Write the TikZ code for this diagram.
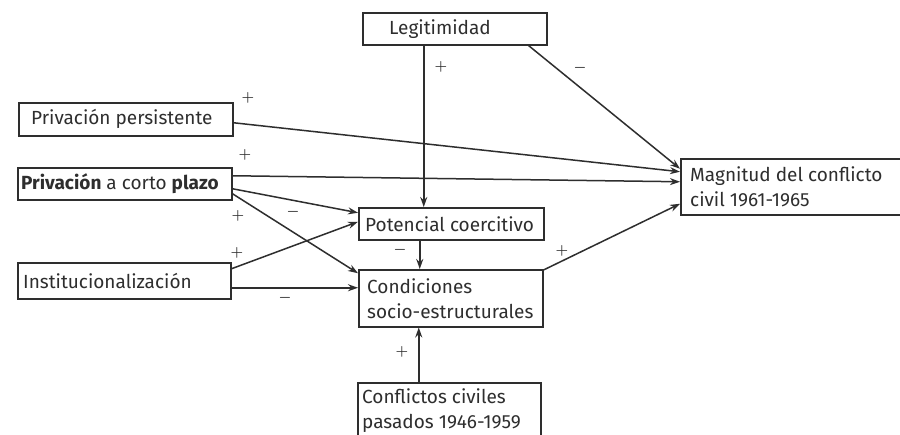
\documentclass[tikz,border=0pt]{standalone}
\usepackage{fontspec}
\setmainfont{Fira Sans}
\usetikzlibrary{arrows.meta,calc}
\definecolor{ink}{HTML}{2E2E2E}
\tikzset{
  x=1pt, y=-1pt,
  box/.style={draw=ink, line width=1.5pt, rectangle, inner sep=0pt},
  lbl/.style={text=ink, font=\fontsize{19}{25}\selectfont, inner sep=0pt, align=left, anchor=west},
  sgn/.style={text=ink, font=\fontsize{14}{14}\selectfont\boldmath, inner sep=0pt},
  arr/.style={draw=ink, line width=1.5pt, -{Stealth[length=10pt,width=7pt]}},
}
\begin{document}
\begin{tikzpicture}
\clip (0,0) rectangle (900,434);
\fill[white] (0,0) rectangle (900,434);

% boxes (empty frames) with their texts
\node[box, anchor=north west, minimum width=184pt, minimum height=32pt] (leg) at (362,12) {};
\node[lbl] (legT) at ([xshift=27pt]leg.west) {Legitimidad};

\node[box, anchor=north west, minimum width=214pt, minimum height=33pt] (pp) at (18,102) {};
\node[lbl] (ppT) at ([xshift=13pt]pp.west) {Privación persistente};

\node[box, anchor=north west, minimum width=214pt, minimum height=32pt] (cp) at (17,167) {};
\node[lbl] (cpT) at ([xshift=4pt]cp.west) {\textbf{Privación} a corto \textbf{plazo}};

\node[box, anchor=north west, minimum width=213pt, minimum height=36pt] (inst) at (17,262) {};
\node[lbl] (instT) at ([xshift=6pt]inst.west) {Institucionalización};

\node[box, anchor=north west, minimum width=185pt, minimum height=32pt] (pot) at (358,207) {};
\node[lbl] (potT) at ([xshift=7pt]pot.west) {Potencial coercitivo};

\node[box, anchor=north west, minimum width=184pt, minimum height=57pt] (cond) at (358,269) {};
\node[lbl] (condT) at ([xshift=9pt]cond.west) {Condiciones\\socio-estructurales};

\node[box, anchor=north west, minimum width=183pt, minimum height=70pt] (conf) at (357,382) {};
\node[lbl, anchor=north west] (confT) at ([xshift=5pt,yshift=-6pt]conf.north west) {Conflictos civiles\\pasados 1946-1959};

\node[box, anchor=north west, minimum width=260pt, minimum height=56pt] (mag) at (680,158) {};
\node[lbl] (magT) at ([xshift=10pt]mag.west) {Magnitud del conflicto\\civil 1961-1965};

% connectors
\draw[arr] ([xshift=-31pt]leg.south) -- ([xshift=-31pt]leg.south |- pot.north);
\draw[arr] ([xshift=-19pt]leg.south east) -- ([yshift=18pt]mag.west);
\draw[arr] ([yshift=-3.5pt]pp.east) -- ([yshift=15pt]mag.west);
\draw[arr] ([yshift=8pt]cp.east) -- ([yshift=5pt]mag.west);
\draw[arr] ([yshift=-5pt]cp.east) -- ([yshift=11pt]pot.west);
\draw[arr] ([yshift=-10pt]cp.east) -- ([yshift=25pt]cond.west);
\draw[arr] ([yshift=12pt]inst.east) -- ([yshift=2pt]pot.west);
\draw[arr] ([yshift=-7pt]inst.east) -- ([yshift=10.5pt]cond.west);
\draw[arr] ([xshift=-31.5pt]pot.south) -- ([xshift=-31.5pt]pot.south |- cond.north);
\draw[arr] ([yshift=-1pt]cond.north east) -- ([yshift=-17pt]mag.west);
\draw[arr] ([xshift=-30.5pt]conf.north) -- ([xshift=-30.5pt]conf.north |- cond.south);

% signs
\node[sgn] (s1) at (248,98) {$+$};
\node[sgn] (s2) at (245,155) {$+$};
\node[sgn] (s3) at (293,212) {$-$};
\node[sgn] (s4) at (238,216) {$+$};
\node[sgn] (s5) at (237,253) {$+$};
\node[sgn] (s6) at (285,298) {$-$};
\node[sgn] (s7) at (441,67) {$+$};
\node[sgn] (s8) at (580,68) {$-$};
\node[sgn] (s9) at (400,250) {$-$};
\node[sgn] (s10) at (562,251) {$+$};
\node[sgn] (s11) at (402,352) {$+$};
\end{tikzpicture}
\end{document}
